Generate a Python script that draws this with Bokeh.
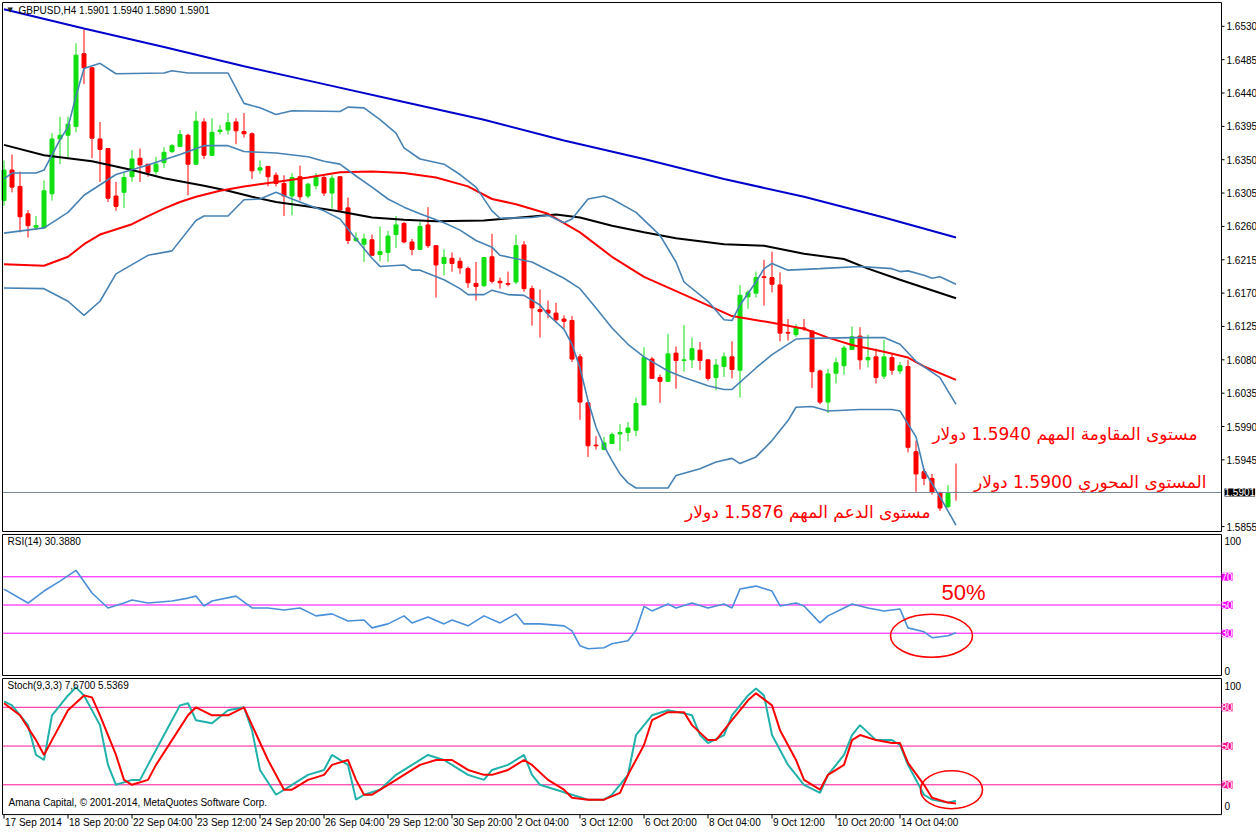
from bokeh.plotting import figure
from bokeh.models import Range1d, Label, ColumnDataSource
from bokeh.layouts import column
from bokeh.embed import file_html
from bokeh.resources import INLINE

# ---------------- data (GBPUSD H4) ----------------
opens = [1.6295,1.6336,1.6314,1.6277,1.6259,1.6258,1.6304,1.6378,1.6383,1.6395,
         1.6493,1.6474,1.6378,1.6365,1.6301,1.6306,1.6327,1.6352,1.6344,1.6334,
         1.6346,1.6361,1.6368,1.6383,1.6344,1.6401,1.6356,1.6388,1.6390,1.6401,
         1.6388,1.6385,1.6336,1.6341,1.6329,1.6318,1.6301,1.6327,1.6301,1.6315,
         1.6326,1.6305,1.6327,1.6285,1.6241,1.6236,1.6242,1.6222,1.6225,1.6249,
         1.6264,1.6239,1.6229,1.6262,1.6234,1.6210,1.6217,1.6213,1.6203,1.6183,
         1.6180,1.6219,1.6186,1.6183,1.6185,1.6235,1.6176,1.6148,1.6147,1.6143,
         1.6135,1.6133,1.6084,1.6022,1.5965,1.5959,1.5967,1.5980,1.5982,1.5985,
         1.6019,1.6081,1.6056,1.6051,1.6089,1.6079,1.6080,1.6093,1.6080,1.6056,
         1.6071,1.6084,1.6066,1.6165,1.6170,1.6192,1.6191,1.6181,1.6117,1.6114,
         1.6123,1.6119,1.6065,1.6023,1.6062,1.6072,1.6094,1.6112,1.6080,1.6084,
         1.6058,1.6083,1.6065,1.6071,1.5956,1.5929,1.5920,1.5901,1.5882,1.5901]
highs = [1.6349,1.6357,1.6334,1.6282,1.6274,1.6322,1.6386,1.6408,1.6408,1.6507,
         1.6526,1.6475,1.6401,1.6365,1.6320,1.6332,1.6363,1.6365,1.6344,1.6354,
         1.6367,1.6371,1.6390,1.6385,1.6415,1.6406,1.6406,1.6397,1.6413,1.6406,
         1.6413,1.6387,1.6349,1.6341,1.6333,1.6329,1.6332,1.6342,1.6319,1.6332,
         1.6328,1.6329,1.6328,1.6299,1.6252,1.6250,1.6249,1.6260,1.6254,1.6274,
         1.6266,1.6243,1.6266,1.6286,1.6234,1.6229,1.6225,1.6218,1.6206,1.6212,
         1.6219,1.6250,1.6191,1.6199,1.6249,1.6240,1.6180,1.6175,1.6160,1.6157,
         1.6140,1.6139,1.6088,1.6022,1.5977,1.5976,1.5982,1.5993,1.5996,1.6029,
         1.6097,1.6084,1.6060,1.6115,1.6098,1.6127,1.6110,1.6104,1.6080,1.6081,
         1.6090,1.6105,1.6181,1.6174,1.6199,1.6215,1.6226,1.6198,1.6135,1.6128,
         1.6135,1.6119,1.6067,1.6068,1.6083,1.6099,1.6125,1.6124,1.6114,1.6095,
         1.6107,1.6087,1.6077,1.6080,1.5971,1.5933,1.5926,1.5902,1.5911,1.5940]
lows = [1.6288,1.6306,1.6252,1.6245,1.6255,1.6257,1.6295,1.6344,1.6353,1.6387,
        1.6452,1.6352,1.6320,1.6293,1.6281,1.6285,1.6320,1.6320,1.6327,1.6330,
        1.6339,1.6359,1.6367,1.6302,1.6343,1.6351,1.6355,1.6384,1.6384,1.6371,
        1.6380,1.6324,1.6331,1.6314,1.6314,1.6274,1.6275,1.6295,1.6298,1.6310,
        1.6301,1.6284,1.6282,1.6236,1.6239,1.6212,1.6221,1.6213,1.6212,1.6231,
        1.6237,1.6221,1.6228,1.6231,1.6164,1.6194,1.6199,1.6196,1.6177,1.6160,
        1.6178,1.6183,1.6176,1.6179,1.6182,1.6172,1.6126,1.6110,1.6136,1.6130,
        1.6122,1.6077,1.5999,1.5949,1.5959,1.5958,1.5967,1.5957,1.5970,1.5977,
        1.6019,1.6055,1.6022,1.6051,1.6041,1.6064,1.6069,1.6066,1.6052,1.6039,
        1.6057,1.6055,1.6029,1.6149,1.6164,1.6153,1.6171,1.6105,1.6106,1.6111,
        1.6119,1.6042,1.6020,1.6008,1.6048,1.6060,1.6094,1.6067,1.6070,1.6048,
        1.6054,1.6060,1.6061,1.5955,1.5902,1.5911,1.5898,1.5876,1.5880,1.5890]
closes = [1.6336,1.6313,1.6273,1.6261,1.6261,1.6308,1.6378,1.6383,1.6398,1.6491,
          1.6474,1.6379,1.6364,1.6298,1.6287,1.6326,1.6351,1.6343,1.6333,1.6344,
          1.6360,1.6369,1.6384,1.6344,1.6402,1.6356,1.6387,1.6390,1.6400,1.6389,
          1.6385,1.6335,1.6339,1.6327,1.6318,1.6301,1.6326,1.6300,1.6317,1.6326,
          1.6305,1.6325,1.6282,1.6241,1.6244,1.6243,1.6221,1.6226,1.6247,1.6262,
          1.6239,1.6229,1.6260,1.6234,1.6208,1.6218,1.6210,1.6204,1.6184,1.6179,
          1.6218,1.6186,1.6184,1.6182,1.6234,1.6176,1.6150,1.6145,1.6143,1.6134,
          1.6132,1.6081,1.6023,1.5964,1.5964,1.5968,1.5979,1.5982,1.5988,1.6021,
          1.6083,1.6055,1.6051,1.6088,1.6079,1.6080,1.6095,1.6079,1.6055,1.6073,
          1.6084,1.6067,1.6167,1.6171,1.6191,1.6191,1.6182,1.6116,1.6116,1.6123,
          1.6122,1.6064,1.6023,1.6061,1.6076,1.6096,1.6111,1.6080,1.6083,1.6056,
          1.6084,1.6066,1.6072,1.5962,1.5926,1.5920,1.5901,1.5880,1.5900,1.5901]

ma_blue_x = [0,10,20,30,40,50,60,70,80,90,100,110,119]
ma_blue = [1.6553,1.6527,1.6502,1.6476,1.6452,1.6428,1.6404,1.6376,1.6351,1.6324,1.6300,1.6272,1.6245]

ma_black_x = [0,5,11,16,20,25,28,31,34,38,42,46,50,54,60,69,72,76,80,84,90,95,100,105,108,112,119]
ma_black = [1.6370,1.6356,1.6348,1.6336,1.6325,1.6315,1.6308,1.6300,1.6293,1.6287,1.6280,1.6272,1.6269,
            1.6267,1.6268,1.6276,1.6272,1.6261,1.6252,1.6244,1.6236,1.6234,1.6223,1.6216,1.6203,1.6188,1.6163]

ma_red_x = [0,5,8,10,12,16,18,20,22,24,27,30,34,38,42,46,50,54,58,61,64,68,72,76,80,85,91,96,100,103,106,110,113,115,119]
ma_red = [1.6209,1.6207,1.6219,1.6236,1.6249,1.6263,1.6274,1.6284,1.6293,1.6300,1.6308,1.6314,1.6320,
          1.6326,1.6333,1.6334,1.6332,1.6326,1.6314,1.6297,1.6290,1.6277,1.6252,1.6219,1.6192,1.6168,
          1.6139,1.6130,1.6122,1.6110,1.6100,1.6091,1.6083,1.6071,1.6053]

bb_up_x = [0,1,4,5,7,8,9,10,12,14,20,21,23,28,30,32,34,36,42,43,45,47,49,50,52,55,57,59,61,62,
           66,68,70,71,73,75,76,79,82,84,85,88,90,91,92,94,95,96,98,102,107,111,112,113,115,116,117,119]
bb_up = [1.6324,1.6332,1.6332,1.6336,1.6377,1.6394,1.6436,1.6473,1.6480,1.6466,1.6467,1.6470,1.6467,
         1.6467,1.6426,1.6420,1.6411,1.6416,1.6415,1.6421,1.6420,1.6404,1.6386,1.6366,1.6351,1.6344,
         1.6330,1.6313,1.6281,1.6271,1.6272,1.6275,1.6265,1.6270,1.6297,1.6301,1.6297,1.6279,1.6248,
         1.6212,1.6185,1.6159,1.6134,1.6133,1.6154,1.6185,1.6203,1.6210,1.6201,1.6203,1.6206,1.6203,
         1.6199,1.6200,1.6194,1.6190,1.6192,1.6182]

bb_mid_x = [0,5,8,10,14,18,22,25,28,30,34,38,40,42,44,46,48,50,52,55,57,59,61,62,66,70,72,74,76,78,
            80,83,85,88,90,91,94,96,99,101,106,110,112,114,117,119]
bb_mid = [1.6251,1.6258,1.6279,1.6302,1.6330,1.6343,1.6357,1.6369,1.6369,1.6361,1.6359,1.6354,1.6348,
          1.6344,1.6328,1.6313,1.6297,1.6286,1.6277,1.6265,1.6255,1.6241,1.6232,1.6221,1.6212,1.6190,
          1.6176,1.6150,1.6123,1.6101,1.6084,1.6065,1.6056,1.6045,1.6040,1.6040,1.6069,1.6087,1.6108,
          1.6109,1.6110,1.6110,1.6101,1.6078,1.6056,1.6020]

bb_low_x = [0,5,8,10,12,14,18,21,24,25,28,30,32,34,36,38,40,42,44,46,47,50,51,52,55,57,58,60,61,63,
            65,67,68,69,70,71,72,73,74,75,76,77,78,79,83,84,87,89,91,92,94,96,98,99,101,103,107,111,
            112,114,115,117,119]
bb_low = [1.6177,1.6176,1.6159,1.6140,1.6159,1.6196,1.6221,1.6227,1.6268,1.6274,1.6274,1.6296,1.6297,
          1.6306,1.6297,1.6289,1.6281,1.6270,1.6243,1.6217,1.6206,1.6208,1.6201,1.6201,1.6188,1.6176,
          1.6168,1.6168,1.6174,1.6168,1.6167,1.6154,1.6141,1.6131,1.6121,1.6101,1.6069,1.6025,1.5989,
          1.5964,1.5944,1.5926,1.5914,1.5907,1.5907,1.5924,1.5933,1.5942,1.5947,1.5940,1.5949,1.5971,
          1.5998,1.6016,1.6017,1.6011,1.6013,1.6013,1.6011,1.5976,1.5931,1.5895,1.5857]

rsi_x = [0,3,5,7,9,11,13,15,16,18,21,23,24,25,26,29,31,33,35,37,39,41,43,45,46,48,50,51,53,55,
         56,58,60,62,64,65,67,70,71,72,73,75,76,78,79,80,81,83,84,86,88,90,91,92,94,96,97,99,100,102,
         103,105,106,108,110,112,113,115,116,118,119]
rsi = [61.3,51.4,59.9,66.9,74.6,58.5,47.9,51.4,53.5,51.4,52.8,54.9,56.3,49.3,52.8,56.3,47.9,47.9,46.5,47.9,
       42.3,43.7,38.7,39.4,33.8,36.6,42.3,37.3,41.5,36.6,39.4,35.2,42.3,37.3,43.7,36.6,36.6,35.2,31.7,21.1,
       19.0,19.7,22.5,24.6,32.0,49.0,45.8,50.7,47.9,51.4,47.9,50.7,47.9,61.3,63.4,59.9,49.3,51.4,49.3,37.3,
       42.3,47.9,50.7,47.9,45.8,47.2,33.8,31.0,26.8,28.2,30.4]

stoch_k_x = [0,1,3,4,5,6,8,9,10,12,13,14,16,17,18,20,22,23,24,26,28,30,31,32,34,36,38,40,41,43,
             44,45,47,49,51,53,55,56,58,60,61,63,65,66,67,69,71,73,75,76,78,79,81,83,85,86,87,88,90,91,
             93,94,95,96,98,100,102,103,105,106,107,109,111,112,113,115,116,118,119]
stoch_k = [84.6,81.5,66.2,43.1,39.2,73.8,89.2,95.4,89.2,66.2,35.4,20,23.8,23.8,35.4,58.5,81.5,83.1,70,67.7,
           77.7,80,62.3,31.5,12.3,20,27.7,31.5,43.1,35.4,8.5,12.3,16.2,27.7,35.4,43.1,39.2,35.4,27.7,23.8,
           31.5,35.4,43.1,27.7,20,16.2,12.3,8.5,8.5,12.3,27.7,58.5,73.8,77.7,75.4,73.8,58.5,52.3,58.5,73.8,
           89.2,94.6,89.2,58.5,35.4,20,13.8,27.7,43.1,58.5,66.2,54.6,54.6,50.8,35.4,12.3,8.5,6.2,7.7]

stoch_d_x = [0,2,4,5,6,8,10,11,12,14,15,16,18,19,21,23,24,26,28,30,31,33,35,36,38,40,41,43,44,45,
             46,48,50,52,54,56,58,60,61,63,65,66,68,70,71,73,75,77,78,80,81,83,85,86,88,89,91,93,94,96,
             97,99,100,102,103,105,106,107,109,111,112,113,115,116,118,119]
stoch_d = [83.1,73.8,54.6,43.1,54.6,77.7,89.2,87.7,73.8,43.1,23.8,20,23.8,35.4,54.6,73.8,80,73.8,73.8,80,
           66.2,39.2,16.2,16.2,23.8,27.7,35.4,39.2,23.8,12.3,12.3,20,27.7,35.4,39.2,39.2,31.5,27.7,27.7,31.5,
           39.2,35.4,23.8,16.2,10,8.5,8.5,13.8,27.7,50.8,70,76.2,76.2,66.2,54.6,54.6,70,85.4,90.8,81.5,
           62.3,39.2,23.8,16.2,27.7,35.4,54.6,58.5,54.6,52.3,52.3,36.9,20,10,6.2,5.5]

date_tick_idx = [0,8,16,24,32,40,48,56,64,72,80,88,96,104,112]
date_tick_labels = ["17 Sep 2014","18 Sep 20:00","22 Sep 04:00","23 Sep 12:00","24 Sep 20:00",
                    "26 Sep 04:00","29 Sep 12:00","30 Sep 20:00","2 Oct 04:00","3 Oct 12:00",
                    "6 Oct 20:00","8 Oct 04:00","9 Oct 12:00","10 Oct 20:00","14 Oct 04:00"]
price_ticks = [1.6530,1.6485,1.6440,1.6395,1.6350,1.6305,1.6260,1.6215,1.6170,1.6125,
               1.6080,1.6035,1.5990,1.5945,1.5855]
last_price = 1.5901
rsi_levels = [70, 50, 30]
stoch_levels = [80, 50, 20]

# ---------------- layout / style ----------------
FONT = "Liberation Sans"
AR_FONT = "DejaVu Sans"
GREEN = "#10e010"
RED = "#ff0000"
BAND = "#4682b4"
W = 1256                      # canvas width (px)
PXB = 8.0                     # px per bar
XS = -3.5 / PXB               # bar coordinate at canvas x = 0
XE = XS + W / PXB
RB = 1221                     # right border of the chart area (px)
XL = XS + 2 / PXB             # left border of the chart area
XB = XS + RB / PXB            # right border (price scale starts here)


def px(x):
    """canvas x (px) -> bar coordinate"""
    return XS + x / PXB


# main panel: price mapping measured on the reference (1.6530 at y=26, 7467 px per unit)
M_H = 533
def m_y(py):
    return 1.6530 - (py - 26) / 7467.0

# RSI panel: 100 at y=538, 0 at y=680 (reference page coordinates)
R_H = 144
def r_y(py):
    return (680 - py) / 1.42

# Stochastic panel: 0 at y=816, 1.3 px per unit
S_H = 151
def s_y(py):
    return (816 - py) / 1.3


def make_fig(h, y0, y1):
    p = figure(width=W, height=h, x_range=Range1d(XS, XE), y_range=Range1d(y0, y1),
               x_axis_location=None, y_axis_location=None,
               output_backend="svg", toolbar_location=None, tools="", min_border=0)
    p.grid.visible = False
    p.outline_line_color = None
    p.background_fill_color = "white"
    p.border_fill_color = "white"
    return p


def txt(p, x, y, s, size="10px", color="black", align="left", baseline="middle",
        font=FONT, bg=None, xo=0):
    p.add_layout(Label(x=x, y=y, text=s, x_offset=xo, text_font=font, text_font_size=size,
                       text_color=color, text_align=align, text_baseline=baseline,
                       background_fill_color=bg))


def border(p, top, bottom):
    p.line([XL, XB, XB, XL, XL], [top, top, bottom, bottom, top], line_color="black",
           line_width=1)


# ---------------- main price panel ----------------
p1 = make_fig(M_H, m_y(537), m_y(0))

idx = list(range(len(opens)))
colors = [GREEN if c > o else RED for o, c in zip(opens, closes)]
src = ColumnDataSource(dict(x=idx, h=highs, l=lows,
                            t=[max(o, c) for o, c in zip(opens, closes)],
                            b=[min(o, c) for o, c in zip(opens, closes)],
                            c=colors))
p1.segment(x0="x", y0="h", x1="x", y1="l", line_color="c", line_width=1, source=src)
p1.vbar(x="x", width=0.5, top="t", bottom="b", fill_color="c", line_color="c",
        line_width=1, source=src)

p1.segment(x0=[XL], y0=[last_price], x1=[XB], y1=[last_price], line_color="#778899",
           line_width=1)

p1.line(ma_blue_x, ma_blue, line_color="#0000cc", line_width=2)
p1.line(ma_black_x, ma_black, line_color="black", line_width=2)
p1.line(ma_red_x, ma_red, line_color=RED, line_width=2)
p1.line(bb_up_x, bb_up, line_color=BAND, line_width=1.6)
p1.line(bb_mid_x, bb_mid, line_color=BAND, line_width=1.6)
p1.line(bb_low_x, bb_low, line_color=BAND, line_width=1.6)

border(p1, m_y(2), m_y(535))
# price scale
p1.segment(x0=[XB] * len(price_ticks), y0=price_ticks, x1=[px(RB + 3)] * len(price_ticks),
           y1=price_ticks, line_color="black", line_width=1)
for t in price_ticks:
    txt(p1, px(RB + 5), t, "%.4f" % t)
txt(p1, px(RB + 1), last_price, "%.4f" % last_price, color="white", bg="black", xo=2)

txt(p1, px(7), m_y(10), "\u25bc", size="7px", color="#222222", font="DejaVu Sans")
txt(p1, px(18), m_y(10), "GBPUSD,H4  1.5901 1.5940 1.5890 1.5901")

txt(p1, px(1197), m_y(437), "مستوى المقاومة المهم 1.5940 دولار", size="17px",
    color=RED, align="right", font=AR_FONT)
txt(p1, px(1206), m_y(485), "المستوى المحوري 1.5900 دولار", size="17px",
    color=RED, align="right", font=AR_FONT)
txt(p1, px(930), m_y(515), "مستوى الدعم المهم 1.5876 دولار", size="17px",
    color=RED, align="right", font=AR_FONT)

# ---------------- RSI panel ----------------
p2 = make_fig(R_H, r_y(537 + 145), r_y(537))
p2.segment(x0=[XL] * 3, y0=rsi_levels, x1=[XB] * 3, y1=rsi_levels, line_color="#ff00ff",
           line_width=1)
p2.line(rsi_x, rsi, line_color="#4a90d9", line_width=1.6)
border(p2, 100, 0)
for lv in rsi_levels:
    txt(p2, XB, lv, str(lv), color="white", bg="#ff00ff")
txt(p2, px(RB + 3), r_y(545), "100")
txt(p2, px(RB + 3), r_y(675), "0")
txt(p2, px(7), r_y(545), "RSI(14) 30.3880")
txt(p2, px(963), r_y(596), "50%", size="22px", color=RED, align="center")
p2.ellipse(x=[px(931)], y=[r_y(640)], width=82, height=43, width_units="screen",
           height_units="screen", fill_color=None, line_color=RED, line_width=1.6)

# ---------------- Stochastic panel ----------------
p3 = make_fig(S_H, s_y(682 + 152), s_y(682))
p3.segment(x0=[XL] * 3, y0=stoch_levels, x1=[XB] * 3, y1=stoch_levels,
           line_color="#ff1493", line_width=1)
p3.line(stoch_k_x, stoch_k, line_color="#20b2aa", line_width=2)
p3.line(stoch_d_x, stoch_d, line_color=RED, line_width=2)
border(p3, s_y(683), s_y(820))
for lv in stoch_levels:
    txt(p3, XB, lv, str(lv), color="white", bg="#ff1493")
txt(p3, px(RB + 3), s_y(691), "100")
txt(p3, px(RB + 3), s_y(811), "0")
txt(p3, px(7), s_y(690), "Stoch(9,3,3) 7,6700 5.5369")
txt(p3, px(8), s_y(808), "Amana Capital, \u00a9 2001-2014, MetaQuotes Software Corp.")
p3.ellipse(x=[px(951)], y=[s_y(795)], width=62, height=38, width_units="screen",
           height_units="screen", fill_color=None, line_color=RED, line_width=1.6)

# time scale
n = len(date_tick_idx)
p3.segment(x0=date_tick_idx, y0=[s_y(820)] * n, x1=date_tick_idx, y1=[s_y(824)] * n,
           line_color="black", line_width=1)
for t, s in zip(date_tick_idx, date_tick_labels):
    txt(p3, t, s_y(828), s, xo=1)

layout = column(p1, p2, p3, spacing=0)
open("out.html", "w").write(file_html(layout, INLINE))
